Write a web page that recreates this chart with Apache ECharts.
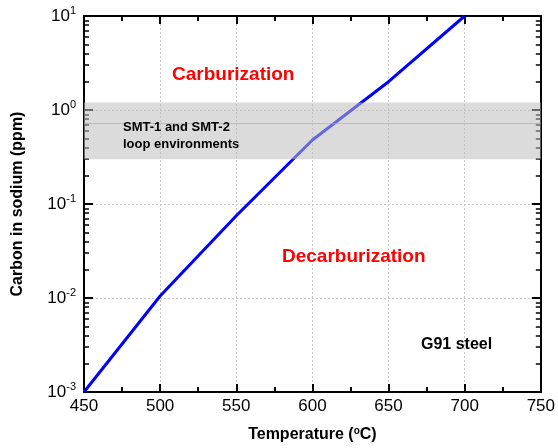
<!DOCTYPE html>
<html>
<head>
<meta charset="utf-8">
<script src="https://cdn.jsdelivr.net/npm/echarts@6/dist/echarts.min.js"></script>
<style>
html,body{margin:0;padding:0;background:#fff;}
#main{width:558px;height:448px;}
</style>
</head>
<body>
<div id="main"></div>
<script>
// data
var temps = [450, 500, 550, 600, 650, 700];
var carbon = [0.001, 0.0105, 0.075, 0.48, 2.0, 10];
var bandRange = [0.3, 1.2];
var bandMid = 0.72;
var xMajor = [450, 500, 550, 600, 650, 700, 750];
var yMajor = [0.001, 0.01, 0.1, 1, 10];
var yMinor = [2, 3, 4, 5, 6, 7, 8, 9];

var FONT = '"Liberation Sans", Arial, sans-serif';

/*初始化图表*/
var myChart = echarts.init(document.getElementById('main'));

var lineData = [];
for (var i = 0; i < temps.length; i++) {
    lineData.push([temps[i], carbon[i]]);
}

// 对数轴的次刻度 2..9 x 10^n
var minorVals = [];
for (var j = 0; j < yMajor.length - 1; j++) {
    for (var k = 0; k < yMinor.length; k++) {
        minorVals.push(+(yMajor[j] * yMinor[k]).toPrecision(3));
    }
}

function expLabel(v) {
    var e = Math.round(Math.log(v) / Math.LN10);
    return '{b|10}{s|' + e + '}';
}

var xMin = xMajor[0], xMax = xMajor[xMajor.length - 1];
var yMin = yMajor[0], yMax = yMajor[yMajor.length - 1];

// 只画刻度的辅助轴
function tickYAxis(pos, vals, len, w) {
    return {
        type: 'log', logBase: 10, min: yMin, max: yMax, position: pos,
        axisLine: {show: false, onZero: false},
        axisTick: {show: true, inside: true, length: len, customValues: vals, lineStyle: {color: '#000', width: w}},
        axisLabel: {show: false},
        splitLine: {show: false}
    };
}

var frameLine = {show: true, onZero: false, lineStyle: {color: '#000', width: 2}};
var xTick = {show: true, inside: true, length: 8, lineStyle: {color: '#000', width: 2}};
var xMinorTick = {show: true, splitNumber: 2, length: 5, lineStyle: {color: '#000', width: 2}};

var option = {
    animation: false,
    textStyle: {fontFamily: FONT},
    grid: {left: 84, right: 16, top: 16, bottom: 56, containLabel: false},
    xAxis: [
        {
            type: 'value', min: xMin, max: xMax, interval: 50,
            position: 'bottom',
            name: '{t|Temperature (}{s|o}{t|C)}',
            nameLocation: 'middle', nameGap: 34,
            nameTextStyle: {
                rich: {
                    t: {fontSize: 16, fontWeight: 'bold', color: '#000', fontFamily: FONT},
                    s: {fontSize: 10, fontWeight: 'bold', color: '#000', fontFamily: FONT, verticalAlign: 'top', padding: [0, 0, 8, 0]}
                }
            },
            axisLine: frameLine,
            axisTick: xTick,
            minorTick: xMinorTick,
            axisLabel: {fontSize: 17, color: '#000', margin: 6, fontFamily: FONT},
            splitLine: {show: true, lineStyle: {color: '#c8c8c8', type: [2, 2], width: 1}}
        },
        {
            type: 'value', min: xMin, max: xMax, interval: 50,
            position: 'top',
            axisLine: frameLine,
            axisTick: xTick,
            minorTick: xMinorTick,
            axisLabel: {show: false},
            splitLine: {show: false}
        }
    ],
    yAxis: [
        {
            type: 'log', logBase: 10, min: yMin, max: yMax,
            position: 'left',
            name: 'Carbon in sodium (ppm)',
            nameLocation: 'middle', nameGap: 58,
            nameTextStyle: {fontSize: 16, fontWeight: 'bold', color: '#000', fontFamily: FONT},
            axisLine: frameLine,
            axisTick: {show: true, inside: true, length: 9, lineStyle: {color: '#000', width: 2}},
            axisLabel: {
                formatter: expLabel, margin: 8,
                rich: {
                    b: {fontSize: 17, color: '#000', fontFamily: FONT},
                    s: {fontSize: 11, color: '#000', fontFamily: FONT, verticalAlign: 'top', padding: [0, 0, 10, 0]}
                }
            },
            splitLine: {show: true, lineStyle: {color: '#c8c8c8', type: [2, 2], width: 1}}
        },
        {
            type: 'log', logBase: 10, min: yMin, max: yMax,
            position: 'right',
            axisLine: frameLine,
            axisTick: {show: true, inside: true, length: 9, lineStyle: {color: '#000', width: 2}},
            axisLabel: {show: false},
            splitLine: {show: false}
        },
        tickYAxis('left', minorVals, 5, 1.5),
        tickYAxis('right', minorVals, 5, 1.5)
    ],
    series: [
        {
            name: 'G91 steel',
            type: 'line',
            data: lineData,
            showSymbol: false,
            z: 2,
            lineStyle: {color: '#0000ff', width: 3}
        },
        {
            /*灰色区域*/
            name: 'band',
            type: 'line',
            data: [],
            z: 3,
            silent: true,
            markArea: {
                silent: true,
                z: 5,
                itemStyle: {color: 'rgba(190,190,190,0.55)'},
                data: [[{yAxis: bandRange[0]}, {yAxis: bandRange[1]}]]
            },
            markLine: {
                silent: true,
                z: 5,
                symbol: 'none',
                label: {show: false},
                lineStyle: {color: 'rgba(170,170,170,0.6)', type: 'solid', width: 1},
                data: [{yAxis: bandMid}]
            }
        }
    ],
    graphic: [
        {type: 'text', z: 20, left: 172, top: 65, style: {text: 'Carburization', fill: '#ff0000', font: 'bold 19px ' + FONT}},
        {type: 'text', z: 20, left: 282, top: 247, style: {text: 'Decarburization', fill: '#ff0000', font: 'bold 19px ' + FONT}},
        {type: 'text', z: 20, left: 123, top: 119, style: {text: 'SMT-1 and SMT-2\nloop environments', fill: '#000', font: 'bold 13px ' + FONT, lineHeight: 17}},
        {type: 'text', z: 20, left: 421, top: 337, style: {text: 'G91 steel', fill: '#000', font: 'bold 16px ' + FONT}}
    ]
};

if (option && typeof option === "object") {
    myChart.setOption(option, true);
}
</script>
</body>
</html>
